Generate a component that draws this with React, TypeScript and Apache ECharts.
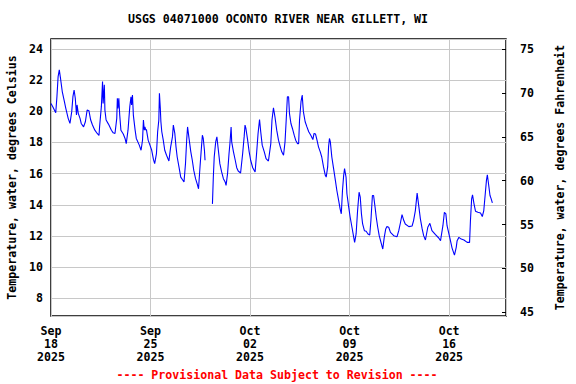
import React, { useEffect, useRef } from "react";
import * as echarts from "echarts";

const TITLE = "USGS 04071000 OCONTO RIVER NEAR GILLETT, WI";
const FOOTER = "---- Provisional Data Subject to Revision ----";
const LEFT_NAME = "Temperature, water, degrees Celsius";
const RIGHT_NAME = "Temperature, water, degrees Fahrenheit";
const START_UTC = Date.UTC(2025, 8, 18, 0, 0);
const MONTHS = ["Jan", "Feb", "Mar", "Apr", "May", "Jun", "Jul", "Aug", "Sep", "Oct", "Nov", "Dec"];

// hours since 2025-09-18 00:00
const hours = [
  0, 3, 8, 10, 12, 14, 16, 19, 22, 25, 29, 32, 35, 37, 39, 41, 43, 44, 46, 49, 51, 55, 58, 61, 64, 67, 70, 74, 78, 81,
  82, 85, 87, 88, 90, 91, 93, 97, 102, 105, 108, 111, 112, 113, 114.5, 116, 118, 122, 125, 127, 130, 133, 135, 136,
  137.5, 139, 142, 144, 149, 152, 154.5, 156, 157.5, 158.5, 160, 161, 164, 167, 170, 173, 175, 178, 180, 182, 183,
  184.5, 185.5, 187, 189.5, 192, 195, 199, 202, 205, 206.5, 209, 211, 213, 216, 219, 222, 224.5, 227, 229, 230.5, 233,
  236, 238.5, 241, 244, 247, 249, 251.5, 254, 255.5, 257, 259, 260, 266, 272.5, 274, 275.5, 278, 280, 282.5, 285, 288,
  291, 294, 295.5, 298, 300.5, 302, 304, 305, 308, 311, 313.5, 316, 320, 323.5, 326, 327.5, 329, 331.5, 334.5, 337,
  340.5, 344.5, 347, 349.5, 352, 354, 356.5, 360, 363, 367, 371, 373, 375.5, 378, 381, 384, 387, 389.5, 392.5, 395,
  397, 399, 401, 402.5, 405, 407.5, 410.5, 413, 416, 418, 419.5, 422, 424, 426, 429, 432, 435, 438.5, 442, 444, 446.5,
  449, 451.5, 454.5, 457, 460, 463, 464.5, 467, 468.5, 470, 471.5, 474, 477, 480, 482.5, 485.5, 488, 490, 492, 494,
  495.5, 498, 499.5, 502.5, 505, 508, 511, 512.5, 515, 517.5, 520, 522, 524, 526, 529, 532, 535, 538, 540, 542.5,
  544.5, 547, 549, 551.5, 554, 557, 560, 562.5, 565, 567, 570, 573, 578.5, 584, 587, 590, 592.5, 595.5, 598, 604,
  609.5, 612, 615, 618, 621, 623.5, 626.5, 629, 632, 636, 639.5, 643, 649, 654.5, 657.5, 661.5, 664, 666.5, 668.5,
  673, 677, 681, 684, 685.5, 688.5, 692.5, 697, 702.5, 706.5, 708, 710, 711.5, 714, 716.5, 720.5, 725, 728, 730.5,
  733, 735, 736.5, 738.5, 741, 743, 745,
];

// water temperature, degrees Celsius (null = gap in record)
const tempC: (number | null)[] = [
  20.51, 20.3, 19.91, 20.94, 22.23, 22.66, 22.13, 21.27, 20.73, 20.19, 19.55, 19.23, 19.98, 20.94, 21.37, 20.84, 19.76,
  20.41, 19.87, 19.55, 19.22, 19.0, 19.33, 20.08, 20.04, 19.44, 19.12, 18.79, 18.58, 18.45,
  19.0, 20.3, 21.91, 20.51, 21.7, 20.08, 19.44, 19.18, 18.79, 18.62, 18.58, 19.55, 20.84, 20.19, 20.84, 19.76, 18.79,
  18.54, 18.26, 17.93, 18.79, 20.3, 20.94, 20.41,
  21.05, 19.76, 18.79, 18.26, 17.83, 17.5, 18.15, 19.44, 18.79, 19.0, 18.79, 18.84, 18.15, 17.83, 17.5, 16.9, 16.64,
  17.29, 18.69, 19.44, 21.16,
  20.19, 19.33, 18.69, 18.15, 17.5, 17.18, 16.81, 17.72, 18.36, 19.12, 18.58, 17.72, 17.07, 16.43, 15.78, 15.61, 15.46,
  16.64, 18.15, 19.0, 18.26,
  17.4, 16.86, 16.21, 15.68, 15.31, 15.03, 16.43, 17.72, 18.47, 18.26, 17.5, 16.86, null, 14.06, 15.78, 17.07, 18.04,
  18.36, 17.5, 16.64, 16.11,
  15.68, 15.46, 15.25, 16.0, 17.29, 17.93, 19.0, 18.04, 17.4, 16.86, 16.38, 16.17, 16.04, 17.29, 18.36, 19.12, 18.9,
  18.26, 17.4, 16.86,
  16.38, 16.11, 17.29, 18.58, 19.48, 18.69, 17.83, 17.4, 16.97, 16.81, 17.93, 19.44, 20.23, 19.65, 18.79, 18.15, 17.72,
  17.4, 17.18, 18.04,
  19.44, 20.94, 20.94, 19.87, 19.22, 18.9, 18.47, 18.15, 17.93, 17.93, 19.44, 20.62, 21.05, 19.98, 19.33, 19.0, 18.69,
  18.47, 18.19, 18.58, 18.54,
  18.15, 17.72, 17.4, 17.07, 16.43, 15.89, 15.78, 16.43, 17.72, 18.26, 18.04, 17.07, 16.32, 15.57, 14.92, 14.28, 13.74,
  13.42, 14.92, 15.89,
  16.32, 15.78, 14.71, 13.85, 13.2, 12.56, 11.91, 11.59, 12.13, 13.63, 14.81, 14.49, 13.42, 12.77, 12.34, 12.3, 12.13,
  12.06, 12.99, 14.6,
  14.6, 13.85, 13.2, 12.56, 12.02, 11.59, 11.16, 11.91, 12.45, 12.6, 12.56, 12.23, 12.02, 11.95, 12.34, 12.88, 13.37,
  12.99, 12.77, 12.6,
  12.64, 12.99, 13.63, 14.75, 13.85, 13.1, 12.45, 12.02, 11.74, 12.56, 12.81, 12.34, 12.08, 11.87, 11.7, 12.66, 13.52,
  13.42, 12.66,
  11.91, 11.22, 10.77, 11.27, 11.7, 11.91, 11.8, 11.74, 11.59, 11.59, 12.99, 14.38, 14.64, 14.06, 13.59, 13.52, 13.48,
  13.25, 13.63,
  14.71, 15.57, 15.93, 15.35, 14.6, 14.38, 14.13,
];

const X_MAX_HOURS = 768; // Oct 20 00:00
const X_TICK_HOURS = 168; // one week
const C_MIN = 6.863;
const C_MAX = 24.643;
const F_MIN = 44.58;
const F_MAX = 76.14;

const FONT_FAMILY = '"DejaVu Sans Mono", "Liberation Mono", monospace';

function fmtDate(h: number): string {
  const d = new Date(START_UTC + h * 3600 * 1000);
  const dd = String(d.getUTCDate()).padStart(2, "0");
  return MONTHS[d.getUTCMonth()] + "\n" + dd + "\n" + d.getUTCFullYear();
}

export default function App() {
  const ref = useRef<HTMLDivElement>(null);
  useEffect(() => {
    if (!ref.current) return;
    const chart = echarts.init(ref.current, undefined, { renderer: "svg" });
    const data = hours.map((h, i) => [h, tempC[i]]);
    const textStyle = { color: "#000", fontFamily: FONT_FAMILY, fontWeight: "bold" as const, fontSize: 11.6 };
    chart.setOption({
      animation: false,
      backgroundColor: "#fff",
      grid: {
        left: 51,
        top: 39,
        right: 70,
        bottom: 68,
        containLabel: false,
        outerBoundsMode: "none",
        show: true,
        borderColor: "#000",
        borderWidth: 1.5,
        backgroundColor: "#fff",
      },
      graphic: [
        {
          type: "text",
          x: 278,
          y: 19,
          style: {
            text: TITLE,
            textAlign: "center",
            textVerticalAlign: "middle",
            fill: "#000",
            font: 'bold 11.6px "DejaVu Sans Mono", monospace',
          },
        },
        {
          type: "text",
          x: 277,
          y: 375,
          style: {
            text: FOOTER,
            textAlign: "center",
            textVerticalAlign: "middle",
            fill: "#ff0000",
            font: 'bold 11.6px "DejaVu Sans Mono", monospace',
          },
        },
      ],
      xAxis: {
        type: "value",
        min: 0,
        max: X_MAX_HOURS,
        interval: X_TICK_HOURS,
        axisLine: { show: false },
        axisTick: { show: false },
        splitLine: { show: true, lineStyle: { color: "#c8c8c8", width: 1 } },
        axisLabel: {
          ...textStyle,
          margin: 8,
          lineHeight: 13,
          showMaxLabel: false,
          formatter: (v: number) => fmtDate(v),
        },
      },
      yAxis: [
        {
          type: "value",
          min: C_MIN,
          max: C_MAX,
          splitNumber: 9,
          minInterval: 2,
          maxInterval: 2,
          position: "left",
          name: LEFT_NAME,
          nameLocation: "middle",
          nameRotate: 90,
          nameGap: 32,
          nameTextStyle: textStyle,
          axisLine: { show: false },
          axisTick: { show: false },
          splitLine: { show: true, lineStyle: { color: "#c8c8c8", width: 1 } },
          axisLabel: { ...textStyle, margin: 8, showMinLabel: false, showMaxLabel: false },
        },
        {
          type: "value",
          min: F_MIN,
          max: F_MAX,
          splitNumber: 6,
          minInterval: 5,
          maxInterval: 5,
          position: "right",
          name: RIGHT_NAME,
          nameLocation: "middle",
          nameRotate: 90,
          nameGap: 48,
          nameTextStyle: textStyle,
          axisLine: { show: false },
          axisTick: { show: true, inside: true, length: 4, lineStyle: { color: "#000", width: 1 } },
          splitLine: { show: false },
          axisLabel: { ...textStyle, margin: 14, showMinLabel: false, showMaxLabel: false },
        },
      ],
      series: [
        {
          type: "line",
          yAxisIndex: 0,
          data,
          showSymbol: false,
          connectNulls: false,
          lineStyle: { color: "#0000ff", width: 1.1 },
          itemStyle: { color: "#0000ff" },
        },
      ],
    });
    return () => chart.dispose();
  }, []);
  return <div ref={ref} style={{ position: "absolute", left: 0, top: 0, width: 576, height: 384 }} />;
}
